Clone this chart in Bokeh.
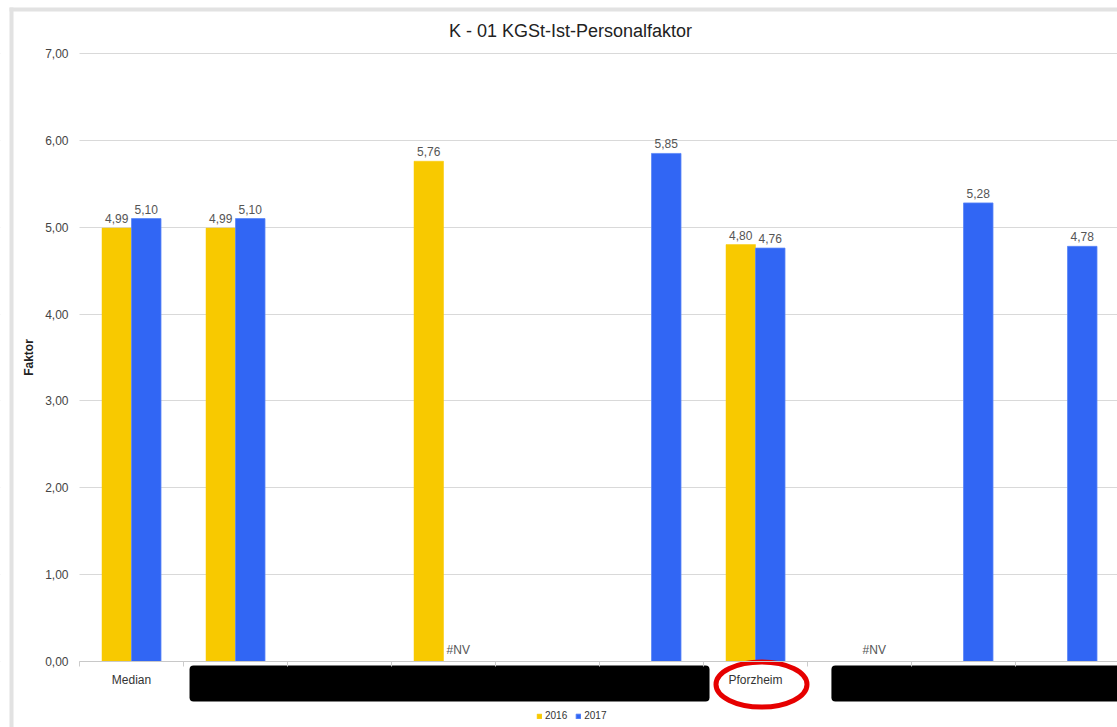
from bokeh.plotting import figure
from bokeh.models import Range1d, FixedTicker, ColumnDataSource, Legend, LegendItem
from bokeh.core.properties import value
from bokeh.embed import file_html
from bokeh.resources import INLINE

# ---------------- data ----------------
title_text = "K - 01 KGSt-Ist-Personalfaktor"
y_axis_label = "Faktor"
# names of the redacted municipalities are unknown (covered by black boxes)
categories = ["Median", "", "", "", "", "", "Pforzheim", "", "", ""]
series_names = ["2016", "2017"]
values_2016 = [4.99, 4.99, None, 5.76, None, None, 4.80, None, None, None]
values_2017 = [5.10, 5.10, None, None, None, 5.85, 4.76, None, 5.28, 4.78]
nv_2016 = [False, False, False, False, False, False, False, False, False, False]
nv_2017 = [False, False, False, True, False, False, False, True, False, False]
y_ticks = [0, 1, 2, 3, 4, 5, 6, 7]
y_tick_labels = ["0,00", "1,00", "2,00", "3,00", "4,00", "5,00", "6,00", "7,00"]
highlight_category = "Pforzheim"

# ---------------- layout ----------------
W, H = 1117, 727
CX0, CSTEP = 131.0, 104.0      # pixel of first category centre, pixels per category
Y0, YSTEP = 661.0, 86.85       # pixel of value 0, pixels per unit


def px_x(px):
    return (px - CX0) / CSTEP


def px_y(py):
    return (Y0 - py) / YSTEP


YELLOW = "#F8C900"
BLUE = "#3166F4"
FONT = value("Liberation Sans")
n = len(categories)
bw = 29.5 / CSTEP

p = figure(width=W, height=H, x_range=Range1d(px_x(0), px_x(W)),
           y_range=Range1d(px_y(H), px_y(0)), output_backend="svg",
           toolbar_location=None, min_border=0)
p.title.visible = False
p.outline_line_color = None
p.background_fill_color = "white"
p.border_fill_color = "white"

# grid
p.xgrid.visible = False
p.ygrid.ticker = FixedTicker(ticks=y_ticks)
p.ygrid.grid_line_color = "#d9d9d9"
p.ygrid.grid_line_width = 1

# white mask left of plot area (hides grid lines behind y labels)
p.quad(left=[px_x(0)], right=[-0.5], bottom=[px_y(H)], top=[px_y(0)],
       fill_color="white", line_color=None)

# outer grey border of the chart card
p.quad(left=[px_x(9), px_x(9)], right=[px_x(13), px_x(W + 5)],
       top=[px_y(7), px_y(7)], bottom=[px_y(H + 5), px_y(11)],
       fill_color="#e2e2e2", line_color=None)

# bars
def bar_source(vals, shift):
    xs = [i + shift for i, v in enumerate(vals) if v is not None]
    tops = [v for v in vals if v is not None]
    return ColumnDataSource(dict(x=xs, top=tops))


r16 = p.vbar(x="x", top="top", bottom=0, width=bw, source=bar_source(values_2016, -bw / 2),
             fill_color=YELLOW, line_color=YELLOW, line_width=0.5)
r17 = p.vbar(x="x", top="top", bottom=0, width=bw, source=bar_source(values_2017, bw / 2),
             fill_color=BLUE, line_color="#5b86f7", line_width=0.8)

# data labels
def label_source(vals, nv, shift):
    xs, ys, ts = [], [], []
    for i, (v, m) in enumerate(zip(vals, nv)):
        if v is not None:
            xs.append(i + shift); ys.append(v); ts.append(f"{v:.2f}".replace(".", ","))
        elif m:
            xs.append(i + shift); ys.append(0); ts.append("#NV")
    return ColumnDataSource(dict(x=xs, y=ys, t=ts))


for vals, nv, sh in ((values_2016, nv_2016, -bw / 2), (values_2017, nv_2017, bw / 2)):
    p.text(x="x", y="y", text="t", source=label_source(vals, nv, sh),
           text_align="center", text_baseline="bottom", y_offset=-5,
           text_font=FONT, text_font_size="12px", text_color="#555555")

# redaction boxes over hidden category names
p.quad(left=[0.558, 6.73], right=[5.558, px_x(W + 20)],
       top=[px_y(665), px_y(665)], bottom=[px_y(701), px_y(701)],
       fill_color="black", line_color=None, border_radius=4)

# red highlight ellipse around the Pforzheim label
hi = categories.index(highlight_category)
p.ellipse(x=[hi + 6 / CSTEP], y=[px_y(684)], width=91, height=45,
          width_units="screen", height_units="screen",
          fill_color=None, line_color="#e60000", line_width=5)

# title
p.text(x=[px_x(570)], y=[px_y(30)], text=[title_text], text_align="center",
       text_baseline="middle", text_font=FONT, text_font_size="18px", text_color="#222222")

# y axis
ya = p.yaxis[0]
ya.fixed_location = -0.5
ya.bounds = (0, 7)
ya.ticker = FixedTicker(ticks=y_ticks)
ya.major_label_overrides = dict(zip(y_ticks, y_tick_labels))
ya.axis_line_color = None
ya.major_tick_line_color = None
ya.minor_tick_line_color = None
ya.major_tick_out = 0
ya.major_label_standoff = 11
ya.major_label_text_font = "Liberation Sans"
ya.major_label_text_font_size = "12px"
ya.major_label_text_color = "#444444"
ya.axis_label = y_axis_label
ya.axis_label_text_font = "Liberation Sans"
ya.axis_label_text_font_style = "bold"
ya.axis_label_text_font_size = "12px"
ya.axis_label_text_color = "#222222"
ya.axis_label_standoff = 6

# x axis
xa = p.xaxis[0]
xa.fixed_location = 0
xa.bounds = (-0.5, n - 0.5)
xa.ticker = FixedTicker(ticks=list(range(n)), minor_ticks=[i - 0.5 for i in range(n + 1)])
xa.major_label_overrides = {i: c for i, c in enumerate(categories)}
xa.axis_line_color = "#c8c8c8"
xa.major_tick_line_color = None
xa.major_tick_out = 0
xa.major_tick_in = 0
xa.minor_tick_line_color = "#cccccc"
xa.minor_tick_out = 5
xa.minor_tick_in = 0
xa.major_label_standoff = 6
xa.major_label_text_font = "Liberation Sans"
xa.major_label_text_font_size = "12px"
xa.major_label_text_color = "#333333"

# legend
legend = Legend(items=[LegendItem(label=series_names[0], renderers=[r16]),
                       LegendItem(label=series_names[1], renderers=[r17])],
                orientation="horizontal", location=(536, 6),
                glyph_width=6, glyph_height=6, label_standoff=3, spacing=8,
                padding=0, margin=0, label_height=10,
                label_text_font="Liberation Sans", label_text_font_size="10px",
                label_text_color="#333333", border_line_color=None,
                background_fill_alpha=0)
p.add_layout(legend)

open("out.html", "w").write(file_html(p, INLINE))
